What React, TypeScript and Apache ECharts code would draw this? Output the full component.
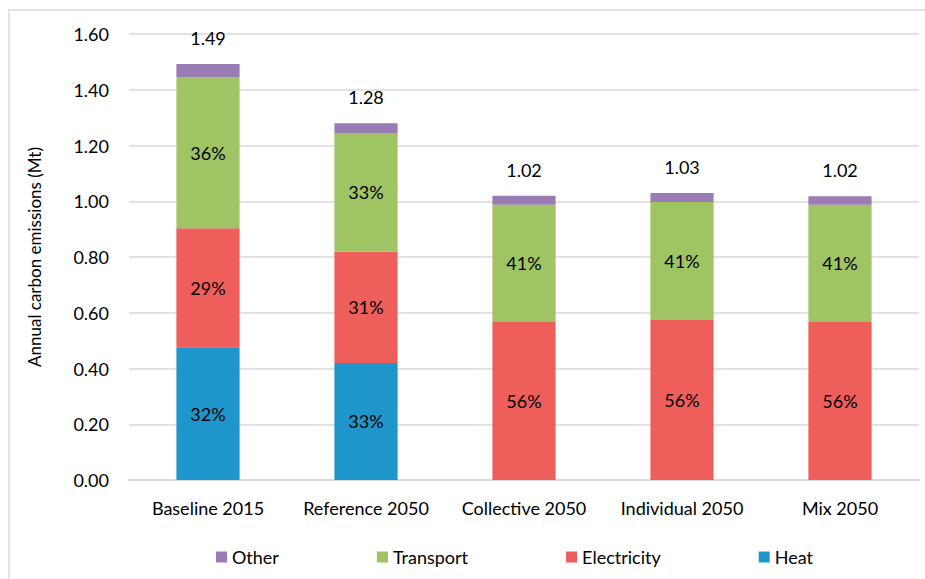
import React, { useEffect, useRef } from "react";
import * as echarts from "echarts";

// Annual carbon emissions (Mt) by scenario, split by sector
const categories = ["Baseline 2015", "Reference 2050", "Collective 2050", "Individual 2050", "Mix 2050"];
const heat = [0.476, 0.42, 0, 0, 0];
const electricity = [0.427, 0.4, 0.567, 0.574, 0.567];
const transport = [0.542, 0.425, 0.42, 0.423, 0.42];
const other = [0.047, 0.035, 0.033, 0.033, 0.031];

const legendOrder = ["Other", "Transport", "Electricity", "Heat"];

const colors = {
  Heat: "#1E96CB",
  Electricity: "#EE5E5A",
  Transport: "#9EC464",
  Other: "#9B7BB4",
};

const FONT = "Lato, 'Noto Sans', sans-serif";

const totals = categories.map((_, i) => heat[i] + electricity[i] + transport[i] + other[i]);

const pctLabel = (values: number[]) => ({
  show: true,
  position: "inside",
  color: "#000",
  fontFamily: FONT,
  fontSize: 18,
  formatter: (p: any) => {
    const v = values[p.dataIndex];
    if (!v) return "";
    return Math.round((v / totals[p.dataIndex]) * 100) + "%";
  },
});

export default function App() {
  const ref = useRef<HTMLDivElement>(null);

  useEffect(() => {
    if (!ref.current) return;
    const chart = echarts.init(ref.current, undefined, { renderer: "svg" });
    chart.setOption({
      animation: false,
      backgroundColor: "#fff",
      textStyle: { fontFamily: FONT },
      graphic: [
        {
          type: "rect",
          shape: { x: 9, y: 10, width: 940, height: 600 },
          style: { fill: "none", stroke: "#D9D9D9", lineWidth: 1.5 },
          silent: true,
        },
      ],
      grid: { left: 129, right: 6, top: 34, bottom: 99, containLabel: false },
      legend: {
        data: legendOrder,
        left: 211,
        top: 543,
        itemWidth: 11,
        itemHeight: 11,
        itemGap: 98,
        icon: "rect",
        textStyle: { fontFamily: FONT, fontSize: 18, color: "#000" },
      },
      xAxis: {
        type: "category",
        data: categories,
        axisLine: { lineStyle: { color: "#D9D9D9", width: 1.5 } },
        axisTick: { show: false },
        axisLabel: { color: "#000", fontFamily: FONT, fontSize: 18, margin: 19, interval: 0 },
      },
      yAxis: {
        type: "value",
        min: 0,
        max: 1.6,
        interval: 0.2,
        name: "Annual carbon emissions (Mt)",
        nameLocation: "middle",
        nameGap: 86,
        nameTextStyle: { color: "#000", fontFamily: FONT, fontSize: 17 },
        axisLine: { show: false },
        axisTick: { show: false },
        axisLabel: {
          color: "#000",
          fontFamily: FONT,
          fontSize: 18,
          margin: 20,
          formatter: (v: number) => v.toFixed(2),
        },
        splitLine: { lineStyle: { color: "#D9D9D9", width: 1.5 } },
      },
      series: [
        {
          name: "Heat",
          type: "bar",
          stack: "total",
          barWidth: "40%",
          data: heat,
          itemStyle: { color: colors.Heat },
          label: pctLabel(heat),
        },
        {
          name: "Electricity",
          type: "bar",
          stack: "total",
          data: electricity,
          itemStyle: { color: colors.Electricity },
          label: pctLabel(electricity),
        },
        {
          name: "Transport",
          type: "bar",
          stack: "total",
          data: transport,
          itemStyle: { color: colors.Transport },
          label: pctLabel(transport),
        },
        {
          name: "Other",
          type: "bar",
          stack: "total",
          data: other,
          itemStyle: { color: colors.Other },
          label: {
            show: true,
            position: "top",
            distance: 17,
            color: "#000",
            fontFamily: FONT,
            fontSize: 18,
            lineHeight: 18,
            formatter: (p: any) => totals[p.dataIndex].toFixed(2),
          },
        },
      ],
    });
    return () => chart.dispose();
  }, []);

  return (
    <div
      ref={ref}
      style={{ position: "fixed", left: 0, top: 0, width: 925, height: 579 }}
    />
  );
}
